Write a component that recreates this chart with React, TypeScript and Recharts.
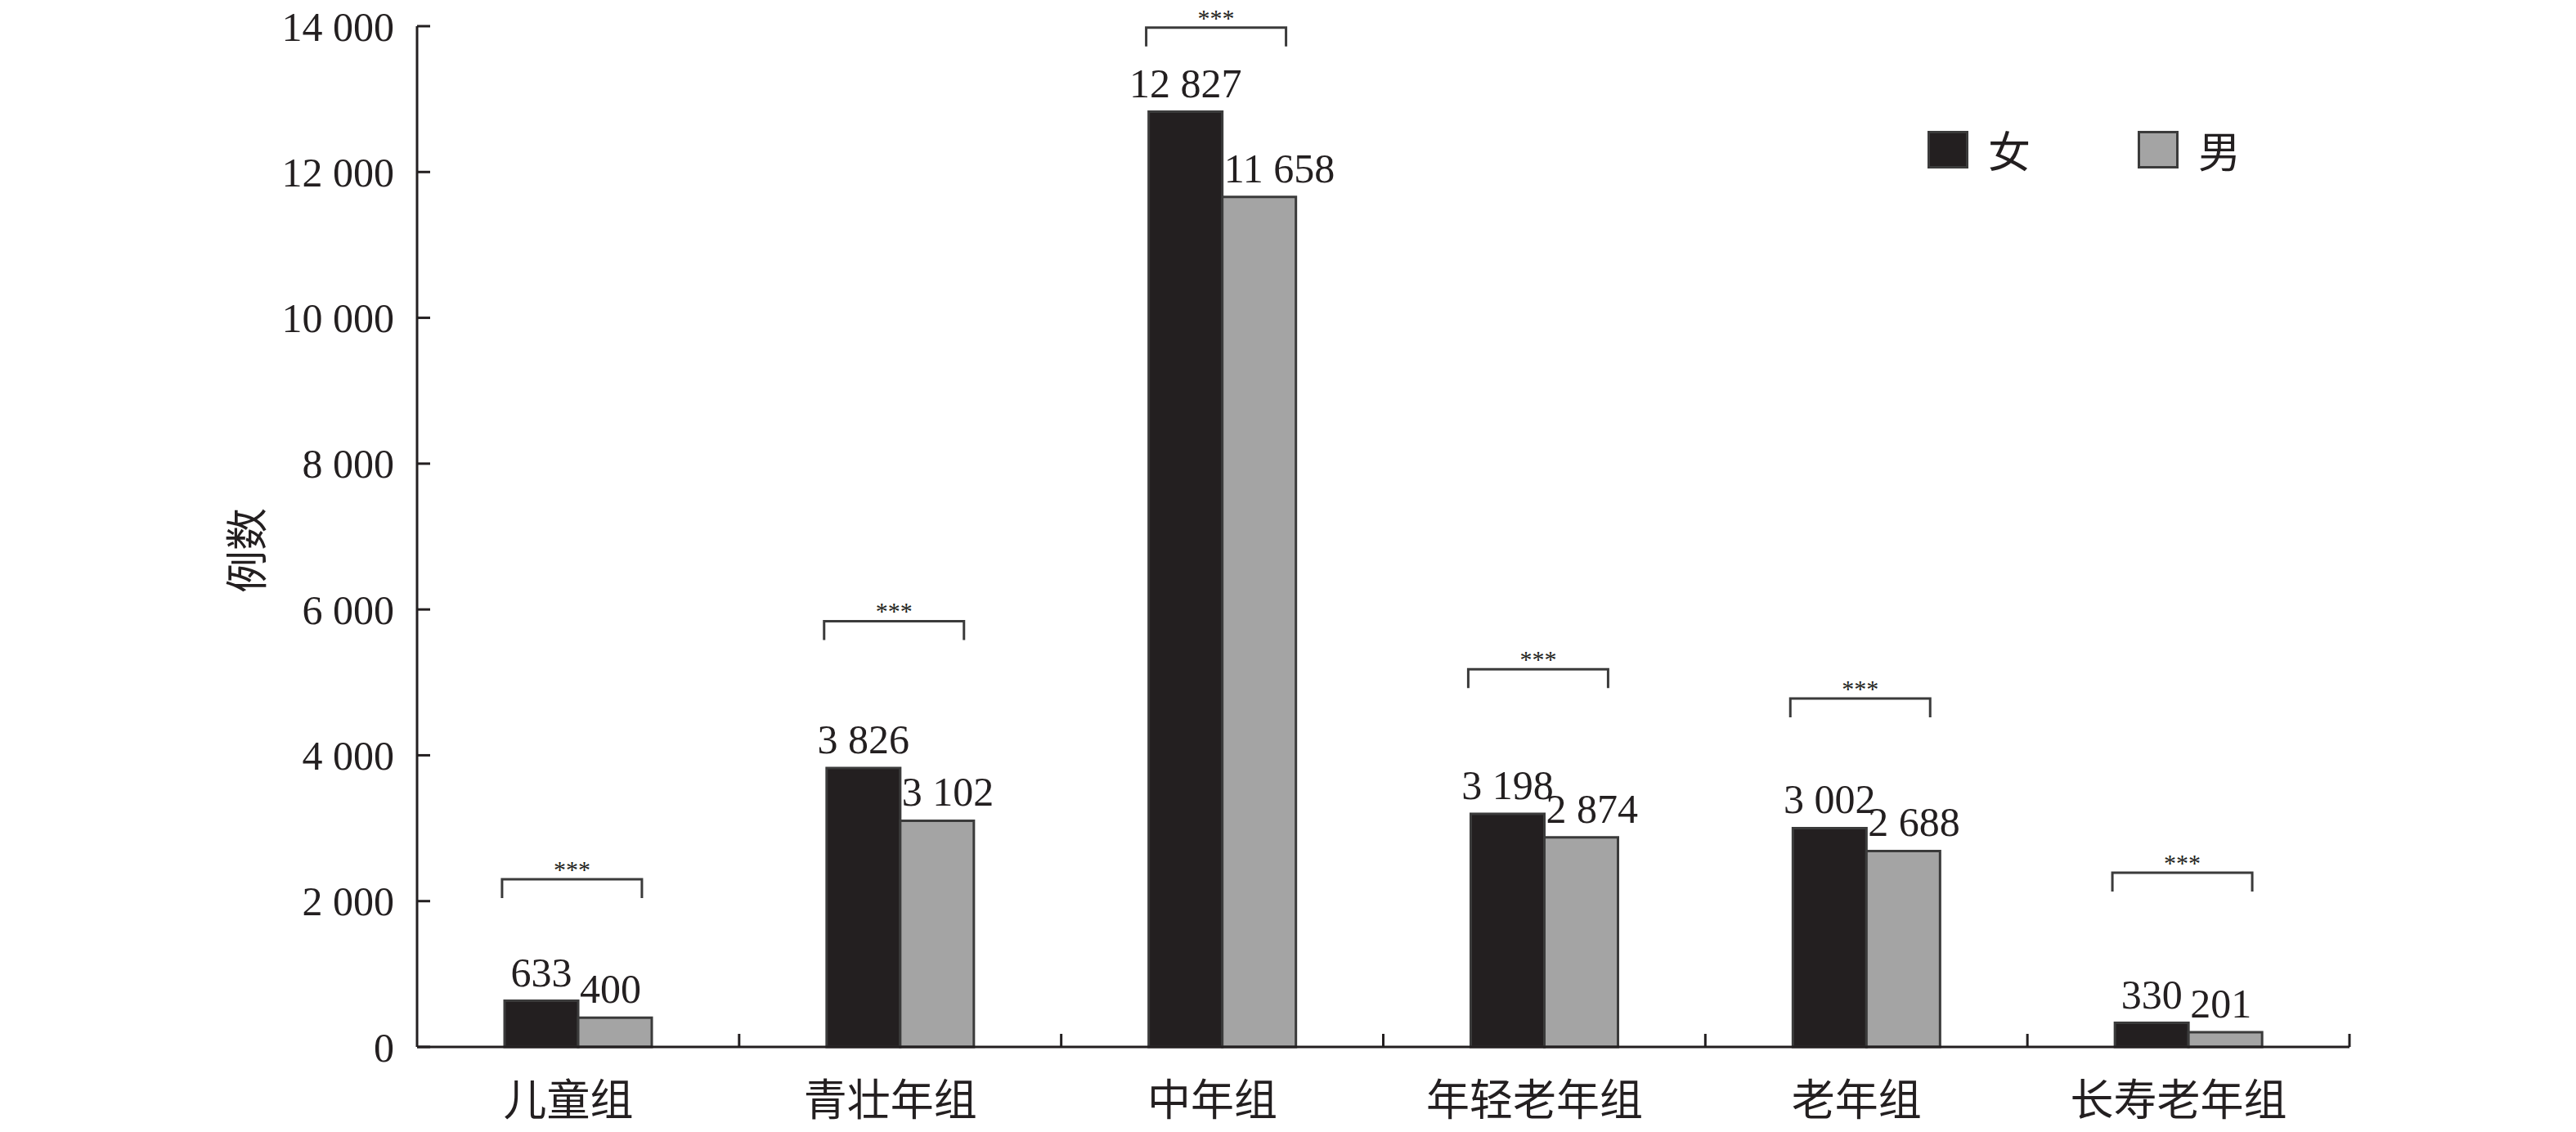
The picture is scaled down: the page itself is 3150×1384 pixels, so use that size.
import { Bar, BarChart, LabelList, ReferenceDot, XAxis, YAxis } from "recharts";

// Age groups, counts by sex, and where the significance brackets sit (in count units)
const categories = ["儿童组", "青壮年组", "中年组", "年轻老年组", "老年组", "长寿老年组"];
const femaleCounts = [633, 3826, 12827, 3198, 3002, 330];
const maleCounts = [400, 3102, 11658, 2874, 2688, 201];
const bracketLevels = [2300, 5840, 13980, 5180, 4780, 2390];
const yTicks = [0, 2000, 4000, 6000, 8000, 10000, 12000, 14000];
const seriesNames = ["女", "男"];
const yLabel = "例数";

const W = 3150;
const H = 1384;
const margin = { top: 32, right: 277, bottom: 0, left: 0 };
const Y_AXIS_W = 510;
const X_AXIS_H = 104;
const PLOT_W = W - margin.left - margin.right - Y_AXIS_W;
const BAND = PLOT_W / categories.length;
const BAR_W = 90;

const INK = "#231f20";
const EDGE = "#3b3b3b";
const FEMALE_FILL = "#231f20";
const MALE_FILL = "#a4a4a4";
const SERIF = '"Liberation Serif", "Times New Roman", "Noto Sans CJK SC", serif';
const CJK = '"Noto Sans CJK SC", "Liberation Serif", sans-serif';

const data = categories.map((name, i) => ({
	name,
	female: femaleCounts[i],
	male: maleCounts[i],
}));

// "12 827" style, space as thousands separator
const fmt = (n: number) => String(n).replace(/\B(?=(\d{3})+(?!\d))/g, " ");

function YTick(props: any) {
	const { x, y, payload } = props;
	return (
		<g>
			{/* ticks point inward, into the plot */}
			<line x1={x} x2={x + 16} y1={y} y2={y} stroke={INK} strokeWidth={3} />
			<text x={x - 28} y={y} dy="0.35em" textAnchor="end" fontSize={50} fill={INK} fontFamily={SERIF}>
				{fmt(payload.value)}
			</text>
		</g>
	);
}

function XTick(props: any) {
	const { x, y, payload } = props;
	const bx = x + BAND / 2; // category boundary tick
	return (
		<g>
			<line x1={bx} x2={bx} y1={y} y2={y - 16} stroke={INK} strokeWidth={3} />
			<text x={x - 12} y={y + 64} dy="0.38em" textAnchor="middle" fontSize={53} fill={INK} fontFamily={CJK}>
				{payload.value}
			</text>
		</g>
	);
}

function FemaleLabel(p: any) {
	return (
		<text x={p.x + p.width / 2} y={p.y - 18} textAnchor="middle" fontSize={50} fill={INK} fontFamily={SERIF}>
			{fmt(p.value)}
		</text>
	);
}

function MaleLabel(p: any) {
	return (
		<text x={p.x + 2} y={p.y - 18} textAnchor="start" fontSize={50} fill={INK} fontFamily={SERIF}>
			{fmt(p.value)}
		</text>
	);
}

function Bracket(p: any) {
	const { cx, cy } = p;
	const left = cx - BAR_W - 3;
	const right = cx + BAR_W - 12;
	return (
		<g>
			<path
				d={`M${left},${cy + 23} L${left},${cy} L${right},${cy} L${right},${cy + 23}`}
				fill="none"
				stroke={EDGE}
				strokeWidth={3}
			/>
			<text x={(left + right) / 2} y={cy - 2} textAnchor="middle" fontSize={30} fill={INK} fontFamily={SERIF}>
				***
			</text>
		</g>
	);
}

function LegendBox() {
	const fills = [FEMALE_FILL, MALE_FILL];
	return (
		<div
			style={{
				position: "absolute",
				left: 2357,
				top: 157,
				display: "flex",
				alignItems: "center",
				gap: "131px",
			}}
		>
			{seriesNames.map((n, i) => (
				<div key={n} style={{ display: "flex", alignItems: "center" }}>
					<span
						style={{
							display: "inline-block",
							width: "50px",
							height: "46px",
							boxSizing: "border-box",
							background: fills[i],
							border: `3px solid ${EDGE}`,
						}}
					/>
					<span style={{ marginLeft: "24px", fontSize: "52px", color: INK, fontFamily: CJK, lineHeight: 1 }}>
						{n}
					</span>
				</div>
			))}
		</div>
	);
}

function YAxisTitle(p: any) {
	const vb = p.viewBox || {};
	const cy = (vb.y ?? 0) + (vb.height ?? 0) / 2 + 17;
	return (
		<text
			transform={`translate(301, ${cy}) rotate(-90)`}
			textAnchor="middle"
			dy="0.38em"
			fontSize={52}
			fill={INK}
			fontFamily={CJK}
		>
			{yLabel}
		</text>
	);
}

export default function App() {
	return (
		<div style={{ position: "absolute", left: 0, top: 0, width: W, height: H, background: "#fff" }}>
			<BarChart width={W} height={H} data={data} margin={margin} barGap={0} barSize={BAR_W}>
				<XAxis
					dataKey="name"
					height={X_AXIS_H}
					interval={0}
					tickLine={false}
					tickSize={0}
					tickMargin={0}
					axisLine={{ stroke: INK, strokeWidth: 3 }}
					tick={XTick}
				/>
				<YAxis
					type="number"
					width={Y_AXIS_W}
					domain={[0, 14000]}
					ticks={yTicks}
					interval={0}
					tickLine={false}
					tickSize={0}
					tickMargin={0}
					axisLine={{ stroke: INK, strokeWidth: 3 }}
					tick={YTick}
					label={<YAxisTitle />}
				/>
				<Bar dataKey="female" name="女" fill={FEMALE_FILL} stroke={EDGE} strokeWidth={3} isAnimationActive={false}>
					<LabelList dataKey="female" content={FemaleLabel} />
				</Bar>
				<Bar dataKey="male" name="男" fill={MALE_FILL} stroke={EDGE} strokeWidth={3} isAnimationActive={false}>
					<LabelList dataKey="male" content={MaleLabel} />
				</Bar>
				{categories.map((c, i) => (
					<ReferenceDot
						key={c}
						x={c}
						y={bracketLevels[i]}
						ifOverflow="visible"
						shape={(p: any) => <Bracket cx={p.cx} cy={p.cy} />}
					/>
				))}
			</BarChart>
			<LegendBox />
		</div>
	);
}
